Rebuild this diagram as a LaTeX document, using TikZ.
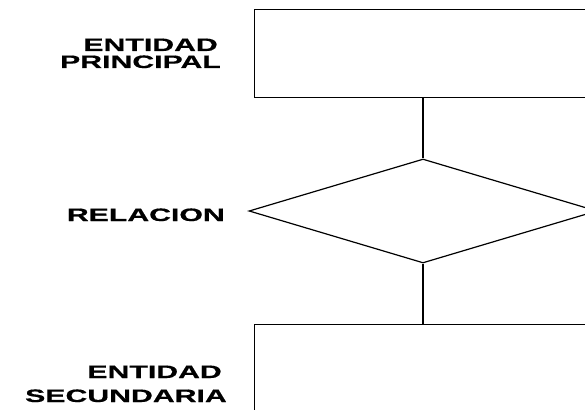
\documentclass[tikz,border=0pt]{standalone}
\usepackage{fontspec}
\newfontfamily\labfont[FakeStretch=1.68,FakeBold=0.6]{Liberation Sans}
\usetikzlibrary{shapes.geometric}
\tikzset{
  shapeline/.style={draw=black, line width=1.2pt},
  boxnode/.style={shapeline, rectangle, inner sep=0pt, minimum width=340pt, anchor=north west},
  relnode/.style={shapeline, diamond, inner sep=0pt, minimum width=348pt, minimum height=104pt},
  conn/.style={draw=black, line width=1.2pt},
  lab/.style={inner sep=0pt, anchor=base east, text height=13pt, text depth=0pt,
    font=\labfont\bfseries\fontsize{18}{18}\selectfont, text=black}
}
\begin{document}
\begin{tikzpicture}[x=1pt, y=-1pt]
\useasboundingbox (0,0) rectangle (585,409);
\clip (0,0) rectangle (585,409);
\fill[white] (0,0) rectangle (585,409);
\node[boxnode, minimum height=88pt] (ep) at (254,9) {};
\node[relnode] (rel) at (423,211) {};
\node[boxnode, minimum height=110pt] (es) at (254,324) {};
\draw[conn] (ep.south -| rel.north) -- (rel.north);
\draw[conn] (rel.south) -- (es.north -| rel.south);
\node[lab] (ep1) at (218,51) {ENTIDAD};
\node[lab] (ep2) at (221,68) {PRINCIPAL};
\node[lab] (rl) at (225,221) {RELACION};
\node[lab] (es1) at (222,378) {ENTIDAD};
\node[lab] (es2) at (227,402) {SECUNDARIA};
\end{tikzpicture}
\end{document}
